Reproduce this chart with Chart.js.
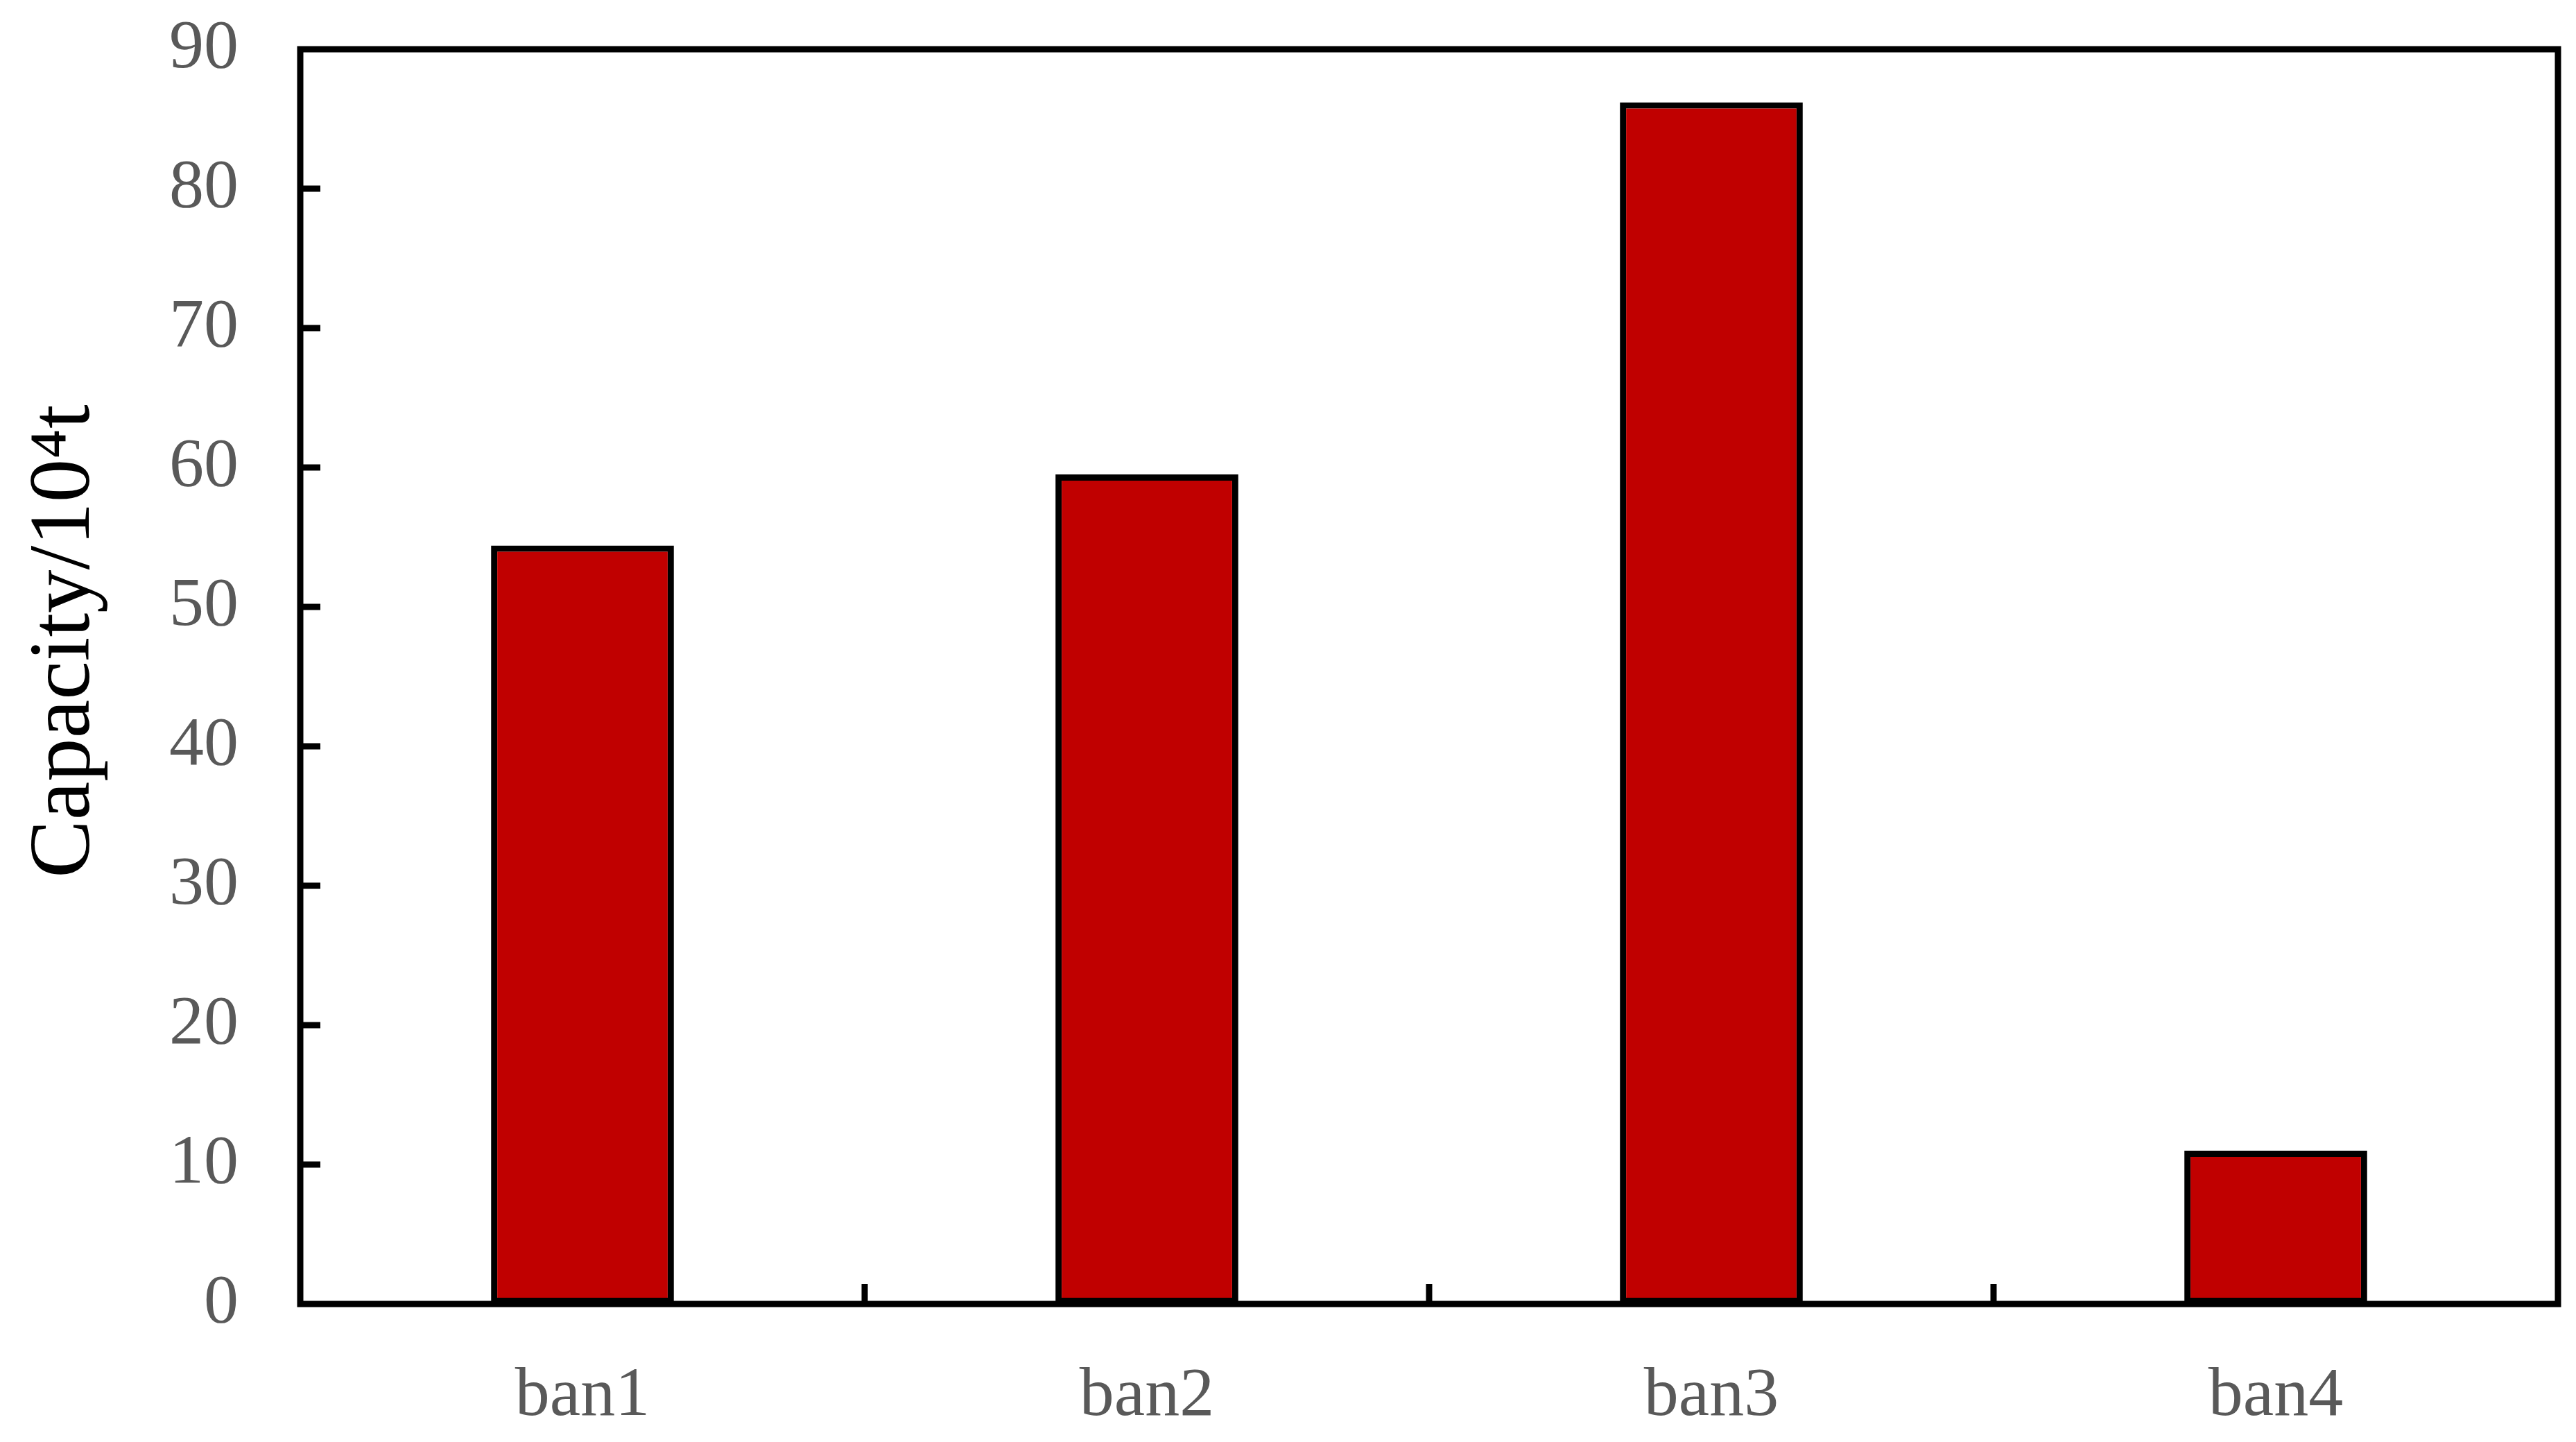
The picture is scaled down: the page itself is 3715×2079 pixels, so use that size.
<!DOCTYPE html>
<html>
<head>
<meta charset="utf-8">
<script src="https://cdn.jsdelivr.net/npm/chart.js@4.4.1/dist/chart.umd.min.js"></script>
<style>
  html, body { margin: 0; padding: 0; background: #fff; }
  #wrap { width: 3715px; height: 2079px; }
</style>
</head>
<body>
<div id="wrap"><canvas id="chart" width="3715" height="2079"></canvas></div>
<script>
// data
const categories = ['ban1', 'ban2', 'ban3', 'ban4'];
const capacity = [54.4, 59.5, 86.2, 11.0];
const yTicks = [0, 10, 20, 30, 40, 50, 60, 70, 80, 90];
const yTitle = 'Capacity/10⁴t';

const FONT = '"Liberation Serif", "Times New Roman", serif';

// frame around the plot, inward tick marks and the y title
const framePlugin = {
  id: 'frame',
  afterDraw(chart) {
    const { ctx, chartArea: a, scales } = chart;
    ctx.save();
    ctx.strokeStyle = '#000';
    ctx.lineWidth = 9;
    // y ticks, pointing into the plot
    yTicks.forEach(v => {
      if (v === 0 || v === 90) return;
      const y = scales.y.getPixelForValue(v);
      ctx.beginPath();
      ctx.moveTo(a.left, y);
      ctx.lineTo(a.left + 29, y);
      ctx.stroke();
    });
    // x ticks between categories
    for (let i = 0; i < categories.length - 1; i++) {
      const x = (scales.x.getPixelForValue(i) + scales.x.getPixelForValue(i + 1)) / 2;
      ctx.beginPath();
      ctx.moveTo(x, a.bottom);
      ctx.lineTo(x, a.bottom - 29);
      ctx.stroke();
    }
    ctx.lineJoin = 'miter';
    ctx.strokeRect(a.left, a.top, a.right - a.left, a.bottom - a.top);

    // axis title, sits a bit above the middle like the original
    ctx.translate(95, (a.top + a.bottom) / 2 - 51);
    ctx.rotate(-Math.PI / 2);
    ctx.fillStyle = '#000';
    ctx.font = '125px ' + FONT;
    ctx.textAlign = 'center';
    ctx.textBaseline = 'middle';
    ctx.fillText(yTitle, 0, 0);
    ctx.restore();
  }
};

new Chart(document.getElementById('chart'), {
  type: 'bar',
  data: {
    labels: categories,
    datasets: [{
      data: capacity,
      backgroundColor: '#C00000',
      borderColor: '#000',
      borderWidth: 9,
      borderSkipped: false,
      categoryPercentage: 1,
      barPercentage: 0.324
    }]
  },
  options: {
    responsive: false,
    animation: false,
    devicePixelRatio: 1,
    layout: { padding: { left: 0, top: 0, right: 26, bottom: 0 } },
    plugins: { legend: { display: false }, tooltip: { enabled: false } },
    scales: {
      x: {
        grid: { display: false, drawTicks: false },
        border: { display: false },
        ticks: { color: '#595959', font: { family: FONT, size: 100 }, padding: 74 },
        afterFit: s => { s.height = 199; s.paddingLeft = 0; s.paddingRight = 0; }
      },
      y: {
        min: 0,
        max: 90,
        grid: { display: false, drawTicks: false },
        border: { display: false },
        afterBuildTicks: s => { s.ticks = yTicks.map(v => ({ value: v })); },
        ticks: { color: '#595959', font: { family: FONT, size: 100 }, padding: 89 },
        afterFit: s => { s.width = 433; s.paddingTop = 71; s.paddingBottom = 0; }
      }
    }
  },
  plugins: [framePlugin]
});
</script>
</body>
</html>
